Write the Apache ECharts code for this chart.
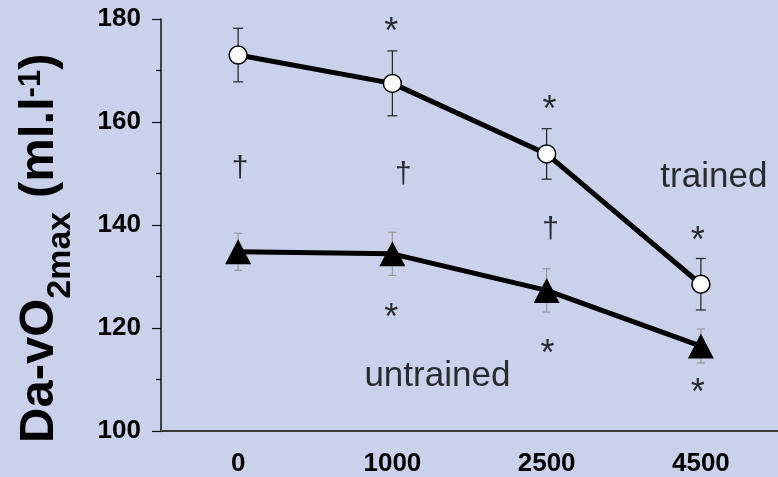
<!DOCTYPE html>
<html>
<head>
<meta charset="utf-8">
<script src="https://cdn.jsdelivr.net/npm/echarts@6/dist/echarts.min.js"></script>
<style>
  html, body { margin: 0; padding: 0; background: #cad1ea; }
  #main { width: 778px; height: 477px; }
</style>
</head>
<body>
<div id="main"></div>
<script>
// altitude (m) categories and y ticks
var categories = ['0', '1000', '2500', '4500'];
var yTicks = [100, 120, 140, 160, 180];

// mean and SE
var trained = [173, 167.5, 153.8, 128.5];
var trainedErr = [5.2, 6.3, 4.9, 5.0];
var untrained = [134.8, 134.4, 127.3, 116.5];
var untrainedErr = [3.6, 4.2, 4.2, 3.3];

// significance marks: [category index, value]
var stars = [[1, 177.3], [2, 162.2], [3, 136.6], [1, 121.7], [2, 114.7], [3, 107.2]];
var daggers = [[0, 150.9], [1, 149.7], [2, 139.0]];
// group labels: [category index, value, text]
var groupLabels = [[3, 149.2, 'trained'], [1, 110.6, 'untrained']];

var FONT = '"Liberation Sans", Arial, sans-serif';
var myChart = echarts.init(document.getElementById('main'));

// 误差线
function errorBars(vals, errs, color, capW) {
  return {
    type: 'custom',
    z: 1,
    silent: true,
    encode: { x: 0, y: [1, 2] },
    data: vals.map(function (v, i) { return [i, v - errs[i], v + errs[i]]; }),
    renderItem: function (params, api) {
      var lo = api.coord([api.value(0), api.value(1)]);
      var hi = api.coord([api.value(0), api.value(2)]);
      var style = { stroke: color, lineWidth: 1.2 };
      return {
        type: 'group',
        children: [
          { type: 'line', shape: { x1: hi[0], y1: hi[1], x2: lo[0], y2: lo[1] }, style: style },
          { type: 'line', shape: { x1: hi[0] - capW, y1: hi[1], x2: hi[0] + capW, y2: hi[1] }, style: style },
          { type: 'line', shape: { x1: lo[0] - capW, y1: lo[1], x2: lo[0] + capW, y2: lo[1] }, style: style }
        ]
      };
    }
  };
}

// text placed at data positions
function textMarks(items, text, fontSize, offsets) {
  return {
    type: 'scatter',
    z: 5,
    silent: true,
    symbolSize: 1,
    itemStyle: { color: 'transparent' },
    data: items.map(function (d, i) {
      return {
        value: [d[0], d[1]],
        label: {
          show: true,
          position: 'inside',
          formatter: d[2] || text,
          offset: [(offsets && offsets[i]) || 0, 0],
          fontSize: fontSize,
          fontFamily: FONT,
          color: '#000'
        }
      };
    })
  };
}

// rotated y axis title with sub / superscripts
function yTitle() {
  var ctx = document.createElement('canvas').getContext('2d');
  var parts = [
    { text: 'Da-vO', size: 49, shift: 0 },
    { text: '2max', size: 34, shift: 16 },
    { text: ' (ml.l', size: 49, shift: 0 },
    { text: '-1', size: 31, shift: -14 },
    { text: ')', size: 49, shift: 0 }
  ];
  var x = 0;
  var children = parts.map(function (p) {
    var font = 'bold ' + p.size + 'px ' + FONT;
    ctx.font = font;
    var el = {
      type: 'text',
      x: x,
      y: p.shift - 0.3465 * p.size,
      style: {
        text: p.text, font: font, fill: '#000',
        textAlign: 'left', textVerticalAlign: 'middle',
        align: 'left', verticalAlign: 'middle'
      }
    };
    x += ctx.measureText(p.text).width;
    return el;
  });
  return { type: 'group', x: 56, y: 443, rotation: Math.PI / 2, children: children };
}

var option = {
  backgroundColor: '#cad1ea',
  animation: false,
  grid: { left: 161, top: 19, width: 618, height: 413 },
  xAxis: {
    type: 'category',
    data: categories,
    boundaryGap: true,
    axisLine: { lineStyle: { color: '#3a3a3a', width: 2 } },
    axisTick: { alignWithLabel: true, length: 4, lineStyle: { color: '#555' } },
    axisLabel: { fontSize: 26, fontWeight: 'bold', color: '#000', margin: 20, fontFamily: FONT }
  },
  yAxis: {
    type: 'value',
    min: yTicks[0],
    max: yTicks[yTicks.length - 1],
    interval: yTicks[1] - yTicks[0],
    axisLine: { show: true, lineStyle: { color: '#111', width: 1.5 } },
    axisTick: { show: true, length: 9, lineStyle: { color: '#111', width: 1.2 } },
    minorTick: { show: true, splitNumber: 2, length: 5, lineStyle: { color: '#111', width: 1.2 } },
    splitLine: { show: false },
    axisLabel: { fontSize: 26, fontWeight: 'bold', color: '#000', margin: 20, fontFamily: FONT }
  },
  graphic: [yTitle()],
  series: [
    errorBars(trained, trainedErr, '#222', 5),
    errorBars(untrained, untrainedErr, '#999', 4),
    {
      name: 'trained',
      type: 'line',
      z: 3,
      data: trained,
      symbol: 'circle',
      symbolSize: 18,
      lineStyle: { color: '#000', width: 5 },
      itemStyle: { color: '#fff', borderColor: '#000', borderWidth: 1.5 }
    },
    {
      name: 'untrained',
      type: 'line',
      z: 3,
      data: untrained,
      symbol: 'triangle',
      symbolSize: [26, 25],
      lineStyle: { color: '#000', width: 5 },
      itemStyle: { color: '#000', borderWidth: 0 }
    },
    textMarks(stars, '*', 36, [-1, 3, -3, -1, 1, -3]),
    textMarks(daggers, '†', 30, [2, 11, 4]),
    textMarks(groupLabels, '', 35, [13, 45])
  ]
};

myChart.setOption(option);
</script>
</body>
</html>
